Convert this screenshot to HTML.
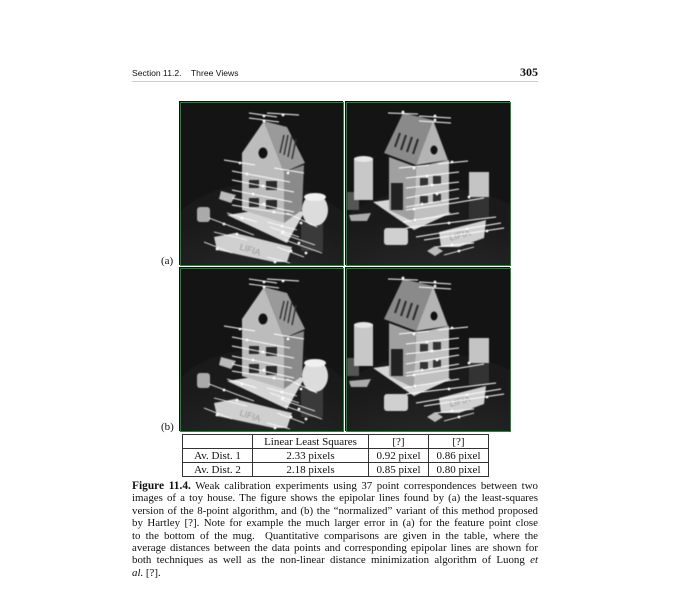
<!DOCTYPE html>
<html><head><meta charset="utf-8">
<style>
body{margin:0;background:#fff;width:690px;height:590px;position:relative;overflow:hidden;font-family:"Liberation Serif",serif;color:#111}
.abs{position:absolute}
.frame{position:absolute;box-sizing:border-box;border:1px solid #111;background:#111}
.frame svg{position:absolute;left:1px;top:1px;outline:1px solid #1c8a34}
.frame svg use{filter:blur(0.5px)}
table{border-collapse:collapse;font-size:11px}
td{border:1px solid #333;padding:0;height:13px;text-align:center;line-height:12px}
.cap{position:absolute;left:132px;width:406px;font-size:10.9px;line-height:12px;white-space:nowrap;text-align:justify;text-align-last:justify}
</style></head><body>
<div class="abs" style="left:132px;top:68px;font-family:'Liberation Sans',sans-serif;font-size:8.6px">Section 11.2.&nbsp;&nbsp;&nbsp; Three Views</div>
<div class="abs" style="right:152px;top:65px;font-weight:bold;font-size:12px">305</div>
<div class="abs" style="left:132px;top:81px;width:406px;height:1px;background:#ccc"></div>

<svg width="0" height="0" style="position:absolute">
<defs>
<radialGradient id="tbl" cx="0.5" cy="0.9" r="0.7"><stop offset="0" stop-color="#2e2e2e"/><stop offset="1" stop-color="#1a1a1a"/></radialGradient>
<g id="sceneL">
<rect width="162" height="162" fill="#141414"/>
<ellipse cx="80" cy="150" rx="100" ry="70" fill="url(#tbl)"/>
<polygon points="33,134 54,130 111,144 106,159 93,159 36,147" fill="#d0d0d0"/>
<text x="58" y="150" font-size="9" fill="#999" transform="rotate(18 70 148)" font-family="Liberation Sans">LIFIA</text>
<polygon points="46,112 106,140 123,110 111,102" fill="#d6d6d6"/>
<rect x="16" y="104" width="13" height="15" rx="3" fill="#aaa"/>
<polygon points="40,88 55,92 50,100 38,96" fill="#bbb"/>
<rect x="120" y="118" width="22" height="30" fill="#3a3a3a"/>
<ellipse cx="134" cy="107" rx="13" ry="16" fill="#dcdcdc"/>
<ellipse cx="134" cy="94" rx="11" ry="4" fill="#f0f0f0"/>
<polygon points="103,69 123,62 121,107 103,120" fill="#8a8a8a"/>
<polygon points="83,18 61,50 61,107 103,120 103,69" fill="#bcbcbc"/>
<polygon points="83,18 106,24 124,60 103,69" fill="#9a9a9a"/>
<g stroke="#333" stroke-width="1.5"><line x1="103" y1="32" x2="99" y2="50"/><line x1="107" y1="32" x2="103" y2="52"/><line x1="111" y1="33" x2="107" y2="54"/><line x1="115" y1="36" x2="111" y2="56"/></g>
<ellipse cx="82" cy="50" rx="4.5" ry="5.5" fill="#111"/>
<g fill="#2a2a2a"><rect x="68" y="77" width="10" height="8"/><rect x="85" y="78" width="11" height="9"/><rect x="68" y="95" width="10" height="9"/><rect x="85" y="97" width="11" height="9"/></g>
<g id="linesL" stroke="#fff" stroke-width="0.9" fill="#fff"></g>
</g>
<g id="sceneR">
<rect width="163" height="162" fill="#141414"/>
<ellipse cx="90" cy="150" rx="110" ry="65" fill="url(#tbl)"/>
<polygon points="92,129 139,117 137,135 112,144 94,144" fill="#d0d0d0"/>
<text x="102" y="136" font-size="9" fill="#999" transform="rotate(-15 110 132)" font-family="Liberation Sans">LIFIA</text>
<polygon points="26,99 67,127 104,110 62,94" fill="#d6d6d6"/>
<rect x="37" y="125" width="24" height="17" rx="3" fill="#d0d0d0"/>
<polygon points="80,148 88,143 96,148 88,153" fill="#bbb"/>
<rect x="0" y="89" width="12" height="18" fill="#555"/>
<polygon points="2,112 24,110 20,118 4,118" fill="#aaa"/>
<rect x="7" y="55" width="19" height="42" fill="#c8c8c8"/>
<ellipse cx="16.5" cy="56" rx="9.5" ry="3" fill="#e6e6e6"/>
<rect x="122" y="69" width="20" height="25" fill="#c4c4c4"/>
<rect x="122" y="94" width="20" height="22" fill="#333"/>
<polygon points="69,64 102,57 102,109 67,119" fill="#c0c0c0"/>
<polygon points="42,54 42,107 67,119 69,64" fill="#a0a0a0"/>
<rect x="44" y="80" width="12" height="27" fill="#222"/>
<polygon points="56,10 37,50 69,62 86,17" fill="#8a8a8a"/>
<polygon points="86,17 101,57 69,62" fill="#b4b4b4"/>
<g stroke="#2a2a2a" stroke-width="2"><line x1="53" y1="30" x2="48" y2="44"/><line x1="59" y1="32" x2="54" y2="47"/><line x1="65" y1="34" x2="60" y2="49"/><line x1="71" y1="36" x2="66" y2="51"/></g>
<ellipse cx="87" cy="47" rx="3.5" ry="4.5" fill="#111"/>
<g fill="#333"><rect x="73" y="75" width="8" height="8"/><rect x="86" y="73" width="8" height="8"/><rect x="73" y="93" width="8" height="8"/><rect x="86" y="91" width="8" height="8"/></g>
<g id="linesR" stroke="#fff" stroke-width="0.9" fill="#fff"></g>
</g>
</defs></svg>

<div class="frame" style="left:179px;top:101px;width:164px;height:164px"><svg width="162" height="162"><use href="#sceneL"/></svg></div>
<div class="frame" style="left:345px;top:101px;width:165px;height:164px"><svg width="163" height="162"><use href="#sceneR"/></svg></div>
<div class="frame" style="left:179px;top:267px;width:164px;height:164px"><svg width="162" height="162"><use href="#sceneL"/></svg></div>
<div class="frame" style="left:345px;top:267px;width:165px;height:164px"><svg width="163" height="162"><use href="#sceneR"/></svg></div>

<div class="abs" style="left:161px;top:255px;font-size:11px">(a)</div>
<div class="abs" style="left:161px;top:421px;font-size:11px">(b)</div>

<table class="abs" style="left:182px;top:434px">
<tr><td style="width:69px"></td><td style="width:115px">Linear Least Squares</td><td style="width:59px">[?]</td><td style="width:59px">[?]</td></tr>
<tr><td>Av. Dist. 1</td><td>2.33 pixels</td><td>0.92 pixel</td><td>0.86 pixel</td></tr>
<tr><td>Av. Dist. 2</td><td>2.18 pixels</td><td>0.85 pixel</td><td>0.80 pixel</td></tr>
</table>

<div>
<div class="cap" style="top:480px"><b style="font-size:11.4px">Figure 11.4.</b> Weak calibration experiments using 37 point correspondences between two</div>
<div class="cap" style="top:492.4px">images of a toy house. The figure shows the epipolar lines found by (a) the least-squares</div>
<div class="cap" style="top:504.8px">version of the 8-point algorithm, and (b) the “normalized” variant of this method proposed</div>
<div class="cap" style="top:517.2px">by Hartley [?]. Note for example the much larger error in (a) for the feature point close</div>
<div class="cap" style="top:529.6px">to the bottom of the mug.&nbsp; Quantitative comparisons are given in the table, where the</div>
<div class="cap" style="top:542px">average distances between the data points and corresponding epipolar lines are shown for</div>
<div class="cap" style="top:554.4px">both techniques as well as the non-linear distance minimization algorithm of Luong <i>et</i></div>
<div class="cap" style="top:566.8px;text-align-last:left"><i>al.</i> [?].</div>
</div>

<script>
const linesLeft=[[68,10,96,14,83,13],[86,10,118,12,102,12],[68,15,98,19,83,18],[43,57,74,62,59,60],[93,65,123,70,107,70],[51,68,109,79,66,71],[51,77,113,89,82,83],[51,87,111,99,72,91],[51,95,113,109,83,101],[51,102,111,112,93,109],[46,110,76,119,61,115],[106,110,136,124,120,120],[28,115,73,132,43,121],[86,119,116,127,101,123],[89,124,118,134,102,129],[23,139,51,150,36,146],[99,130,134,142,118,140],[104,137,141,150,125,150],[96,144,123,154,110,148],[86,154,109,160,94,159],[33,129,66,137,56,131]];
const linesRight=[[41,10,71,11,56,9],[72,13,104,15,88,13],[72,18,104,20,88,17],[52,65,82,62,67,65],[91,61,121,58,105,59],[59,75,112,69,80,73],[59,85,112,79,85,82],[59,95,112,86,90,91],[59,104,112,95,75,101],[59,107,107,100,67,106],[107,100,137,95,122,94],[56,119,112,110,68,117],[59,125,149,114,102,120],[69,134,154,120,120,126],[77,137,157,125,140,128],[89,144,127,140,105,142],[97,152,127,144,112,148]];
function draw(id,arr){
 const g=document.getElementById(id);
 arr.forEach(a=>{
  const l=document.createElementNS('http://www.w3.org/2000/svg','line');
  
  
  l.setAttribute('x1',a[0]);l.setAttribute('y1',a[1]);l.setAttribute('x2',a[2]);l.setAttribute('y2',a[3]);
  g.appendChild(l);
  const c=document.createElementNS('http://www.w3.org/2000/svg','circle');
  
  
  c.setAttribute('cx',a[4]);c.setAttribute('cy',a[5]);c.setAttribute('r',1.4);c.setAttribute('stroke','none');
  g.appendChild(c);
 });
}
draw('linesL',linesLeft);
draw('linesR',linesRight);
</script>
</body></html>
